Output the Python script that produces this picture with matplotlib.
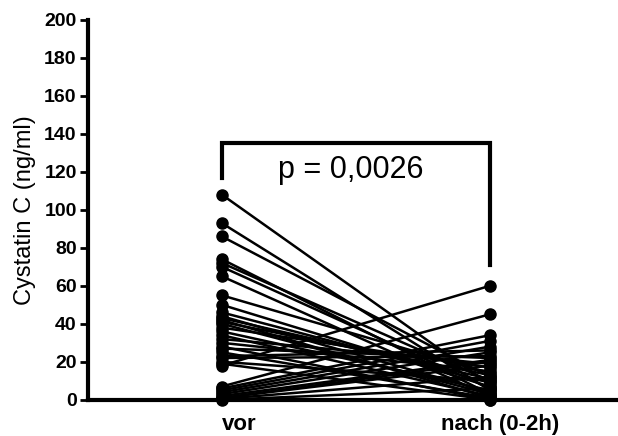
import matplotlib.pyplot as plt

plt.rcParams['font.family'] = ['Liberation Sans', 'DejaVu Sans']

# Cystatin C je Patient vor und nach (0-2h)
groups = ['vor', 'nach (0-2h)']
vor = [108, 93, 86, 74, 72, 70, 65, 55, 50, 46, 44, 43, 42, 41, 40, 38, 36, 34, 32,
       30, 28, 27, 25, 23, 22, 20, 19, 18, 7, 6, 5, 4, 3, 2, 1, 1, 0.5, 0]
nach = [8, 5, 12, 3, 10, 6, 2, 14, 7, 9, 4, 11, 1, 13, 3, 17, 5, 2, 19,
        15, 0, 22, 1, 26, 23, 10, 0, 60, 45, 34, 31, 28, 25, 21, 20, 18, 12, 6]
p_text = 'p = 0,0026'
bracket = [117, 135, 71]  # linker Schenkel, Oberkante, rechter Schenkel

fig = plt.figure(figsize=(6.18, 4.36), dpi=100)
ax = fig.add_axes([0.142, 0.083, 0.858, 0.8716])

for a, b in zip(vor, nach):
    ax.plot([0, 1], [a, b], color='black', lw=1.8, marker='o', ms=8,
            clip_on=False, zorder=3)

# Signifikanz-Klammer
ax.plot([0, 0, 1, 1], [bracket[0], bracket[1], bracket[1], bracket[2]],
        color='black', lw=3, solid_joinstyle='miter', clip_on=False)
ax.text(0.48, 121, p_text, ha='center', va='center', fontsize=22)

ax.set_xlim(-0.5, 1.478)
ax.set_ylim(0, 200)
ax.set_yticks(range(0, 201, 20))
# Gruppennamen leicht nach rechts versetzt
ax.set_xticks([0.065, 1.04])
ax.set_xticklabels(groups, fontsize=16, fontweight='bold')
ax.tick_params(axis='x', length=0, pad=10)
ax.tick_params(axis='y', length=6, width=2, pad=2, labelsize=14)
for lab in ax.get_yticklabels():
    lab.set_fontweight('bold')
ax.set_ylabel('Cystatin C (ng/ml)', fontsize=17, labelpad=6)

for s in ['top', 'right']:
    ax.spines[s].set_visible(False)
for s in ['left', 'bottom']:
    ax.spines[s].set_linewidth(3)

fig.savefig('out.png', dpi=100)
